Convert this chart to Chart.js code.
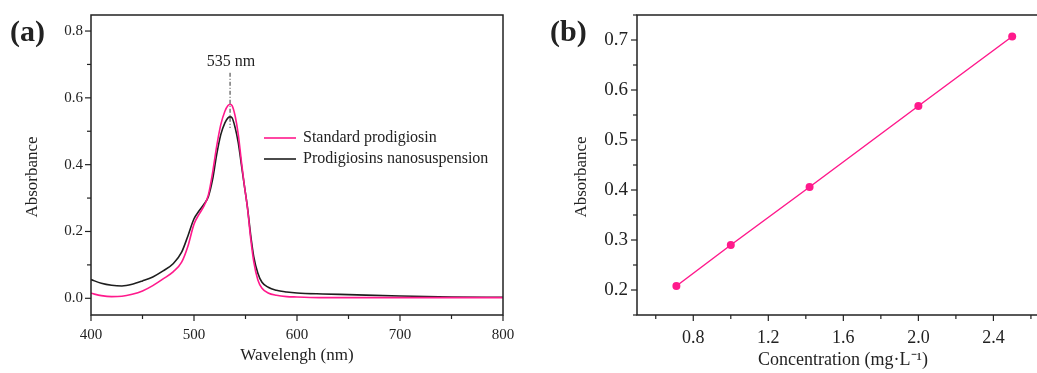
<!DOCTYPE html>
<html>
<head>
<meta charset="utf-8">
<script src="https://cdn.jsdelivr.net/npm/chart.js@4.4.1/dist/chart.umd.min.js"></script>
<style>
  html, body { margin: 0; padding: 0; background: #fff; overflow: hidden; }
  #wrap { position: relative; width: 1037px; height: 373px; overflow: hidden; background: #fff; }
  #chartA { position: absolute; left: 0; top: 0; }
  #chartB { position: absolute; left: 520px; top: 0; }
</style>
</head>
<body>
<div id="wrap">
  <canvas id="chartA" width="520" height="373"></canvas>
  <canvas id="chartB" width="532" height="373"></canvas>
</div>
<script>
// (a) UV-vis spectra
const wavelengths = [400, 410, 420, 430, 440, 450, 460, 470, 480, 488, 494, 500, 505, 510, 514, 518, 522, 526, 530, 533, 535, 537, 540, 543, 546, 549, 552, 555, 558, 562, 566, 572, 580, 590, 600, 625, 650, 700, 750, 800];
const standardAbs = [0.015, 0.008, 0.005, 0.006, 0.012, 0.022, 0.038, 0.058, 0.080, 0.108, 0.155, 0.222, 0.252, 0.278, 0.310, 0.375, 0.455, 0.520, 0.560, 0.577, 0.581, 0.577, 0.545, 0.490, 0.410, 0.335, 0.268, 0.180, 0.110, 0.055, 0.030, 0.016, 0.009, 0.005, 0.004, 0.002, 0.002, 0.002, 0.002, 0.002];
const nanoAbs = [0.056, 0.045, 0.039, 0.037, 0.042, 0.052, 0.064, 0.082, 0.104, 0.138, 0.186, 0.238, 0.262, 0.283, 0.305, 0.355, 0.430, 0.490, 0.525, 0.540, 0.543, 0.540, 0.510, 0.465, 0.400, 0.335, 0.270, 0.190, 0.125, 0.075, 0.048, 0.033, 0.024, 0.019, 0.016, 0.013, 0.011, 0.007, 0.004, 0.003];
const peakWavelength = 535;

// (b) calibration curve
const concentrations = [0.71, 1.0, 1.42, 2.0, 2.5];
const calibAbs = [0.208, 0.290, 0.406, 0.568, 0.707];

const serif = '"Liberation Serif", "Times New Roman", serif';
const pink = '#ff1a8c';
const ink = '#222';

function toPoints(xs, ys) {
  return xs.map((x, i) => ({ x: x, y: ys[i] }));
}

function isMultiple(v, step) {
  const r = v / step;
  return Math.abs(r - Math.round(r)) < 1e-6;
}

// keep the plot box exactly where we want it: fixed axis size, no label padding
function fixSize(prop, size) {
  return s => {
    s[prop] = size;
    s.paddingLeft = 0; s.paddingRight = 0;
    s.paddingTop = 0; s.paddingBottom = 0;
  };
}

// box round the plot plus outward ticks, longer where there is a label
const framePlugin = {
  id: 'frame',
  afterDraw(chart) {
    const ctx = chart.ctx, a = chart.chartArea;
    const xs = chart.scales.x, ys = chart.scales.y;
    ctx.save();
    ctx.strokeStyle = ink;
    ctx.lineWidth = 1.5;
    ctx.strokeRect(a.left, a.top, a.right - a.left, a.bottom - a.top);
    ctx.lineWidth = 1.2;
    xs.ticks.forEach(t => {
      const p = xs.getPixelForValue(t.value);
      const len = t.label ? 6 : 4;
      ctx.beginPath(); ctx.moveTo(p, a.bottom); ctx.lineTo(p, a.bottom + len); ctx.stroke();
    });
    ys.ticks.forEach(t => {
      const p = ys.getPixelForValue(t.value);
      const len = t.label ? 6 : 4;
      ctx.beginPath(); ctx.moveTo(a.left, p); ctx.lineTo(a.left - len, p); ctx.stroke();
    });
    ctx.restore();
  }
};

function drawText(ctx, txt, x, y, font, align, rot) {
  ctx.save();
  ctx.font = font;
  ctx.fillStyle = ink;
  ctx.textAlign = align || 'center';
  ctx.textBaseline = 'middle';
  ctx.translate(x, y);
  if (rot) ctx.rotate(rot);
  ctx.fillText(txt, 0, 0);
  ctx.restore();
}

const textsA = {
  id: 'textsA',
  afterDraw(chart) {
    const ctx = chart.ctx;
    const xs = chart.scales.x, ys = chart.scales.y;
    drawText(ctx, '(a)', 10, 33, 'bold 30px ' + serif, 'left');
    drawText(ctx, 'Absorbance', 33, 177, '17px ' + serif, 'center', -Math.PI / 2);
    drawText(ctx, 'Wavelengh (nm)', 297, 356, '17px ' + serif);

    // peak marker
    const px = xs.getPixelForValue(peakWavelength);
    drawText(ctx, peakWavelength + ' nm', px + 1, 62, '16px ' + serif);
    ctx.save();
    ctx.strokeStyle = '#333';
    ctx.lineWidth = 1;
    ctx.setLineDash([4, 2, 1, 2]);
    ctx.beginPath();
    ctx.moveTo(px, ys.getPixelForValue(0.675));
    ctx.lineTo(px, ys.getPixelForValue(0.51));
    ctx.stroke();
    ctx.restore();

    // legend
    const rows = [138, 159];
    chart.data.datasets.forEach((ds, i) => {
      ctx.save();
      ctx.strokeStyle = ds.borderColor;
      ctx.lineWidth = 1.6;
      ctx.beginPath(); ctx.moveTo(264, rows[i]); ctx.lineTo(296, rows[i]); ctx.stroke();
      ctx.restore();
      drawText(ctx, ds.label, 303, rows[i], '16px ' + serif, 'left');
    });
  }
};

const textsB = {
  id: 'textsB',
  afterDraw(chart) {
    const ctx = chart.ctx;
    drawText(ctx, '(b)', 30, 33, 'bold 30px ' + serif, 'left');
    drawText(ctx, 'Absorbance', 62, 177, '17px ' + serif, 'center', -Math.PI / 2);
    drawText(ctx, 'Concentration (mg\u00b7L\u207b\u00b9)', 323, 360, '18px ' + serif);
  }
};

new Chart(document.getElementById('chartA'), {
  type: 'line',
  data: {
    datasets: [
      {
        label: 'Standard prodigiosin',
        data: toPoints(wavelengths, standardAbs),
        borderColor: pink,
        borderWidth: 1.6,
        pointRadius: 0,
        cubicInterpolationMode: 'monotone'
      },
      {
        label: 'Prodigiosins nanosuspension',
        data: toPoints(wavelengths, nanoAbs),
        borderColor: '#1e1e1e',
        borderWidth: 1.6,
        pointRadius: 0,
        cubicInterpolationMode: 'monotone'
      }
    ]
  },
  options: {
    responsive: false,
    animation: false,
    layout: { autoPadding: false, padding: { left: 0, right: 17, top: 15, bottom: 0 } },
    plugins: { legend: { display: false }, tooltip: { enabled: false } },
    scales: {
      x: {
        type: 'linear',
        min: 400, max: 800,
        afterFit: fixSize('height', 58),
        grid: { display: false, drawTicks: false },
        border: { display: false },
        ticks: {
          stepSize: 50, includeBounds: false, autoSkip: false, maxRotation: 0,
          padding: 11, color: ink, font: { family: serif, size: 15 },
          callback: v => isMultiple(v, 100) ? String(v) : ''
        }
      },
      y: {
        min: -0.05, max: 0.848,
        afterFit: fixSize('width', 91),
        grid: { display: false, drawTicks: false },
        border: { display: false },
        ticks: {
          stepSize: 0.1, includeBounds: false, autoSkip: false,
          padding: 8, color: ink, font: { family: serif, size: 15 },
          callback: v => isMultiple(v, 0.2) ? Math.abs(v).toFixed(1) : ''
        }
      }
    }
  },
  plugins: [framePlugin, textsA]
});

new Chart(document.getElementById('chartB'), {
  type: 'line',
  data: {
    datasets: [
      {
        label: 'Calibration',
        data: toPoints(concentrations, calibAbs),
        borderColor: pink,
        backgroundColor: pink,
        borderWidth: 1.5,
        pointRadius: 4,
        pointBorderWidth: 0,
        tension: 0
      }
    ]
  },
  options: {
    responsive: false,
    animation: false,
    layout: { autoPadding: false, padding: { left: 0, right: 2.5, top: 15, bottom: 0 } },
    plugins: { legend: { display: false }, tooltip: { enabled: false } },
    scales: {
      x: {
        type: 'linear',
        min: 0.5, max: 2.699,
        afterFit: fixSize('height', 58),
        grid: { display: false, drawTicks: false },
        border: { display: false },
        ticks: {
          stepSize: 0.2, includeBounds: false, autoSkip: false, maxRotation: 0,
          padding: 12, color: ink, font: { family: serif, size: 18 },
          callback: v => isMultiple(v, 0.4) ? v.toFixed(1) : ''
        }
      },
      y: {
        min: 0.15, max: 0.75,
        afterFit: fixSize('width', 117),
        grid: { display: false, drawTicks: false },
        border: { display: false },
        ticks: {
          stepSize: 0.05, includeBounds: false, autoSkip: false,
          padding: 9, color: ink, font: { family: serif, size: 19 },
          callback: v => isMultiple(v, 0.1) ? v.toFixed(1) : ''
        }
      }
    }
  },
  plugins: [framePlugin, textsB]
});
</script>
</body>
</html>
